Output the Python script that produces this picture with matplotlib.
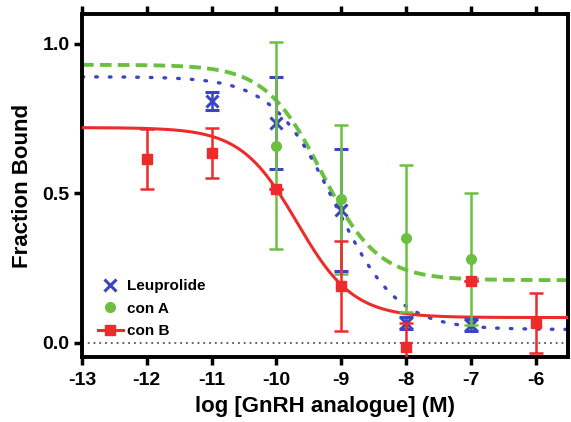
"""
Competition binding curves for GnRH analogues
"""
import numpy as np
import matplotlib
matplotlib.use('Agg')
import matplotlib.pyplot as plt
from matplotlib.lines import Line2D

# measured points: log concentration, mean fraction bound, error
leu_x = [-11, -10, -9, -8, -7]
leu_y = [0.81, 0.735, 0.445, 0.067, 0.06]
leu_err = [0.03, 0.155, 0.205, 0.02, 0.02]

conA_x = [-10, -9, -8, -7]
conA_y = [0.66, 0.48, 0.35, 0.28]
conA_err = [0.345, 0.25, 0.245, 0.22]

conB_x = [-12, -11, -10, -9, -8, -7, -6]
conB_y = [0.615, 0.635, 0.515, 0.19, -0.013, 0.207, 0.067]
conB_err = [0.10, 0.085, 0.0, 0.15, 0.08, 0.0, 0.10]

# fitted sigmoid parameters: top, bottom, logIC50, hill slope
leu_fit = [0.89, 0.045, -9.1, 0.9]
conA_fit = [0.93, 0.21, -9.3, 1.0]
conB_fit = [0.72, 0.085, -9.68, 1.0]

xticks = [-13, -12, -11, -10, -9, -8, -7, -6]
yticks = [0.0, 0.5, 1.0]

BLUE = '#3b44c4'
GREEN = '#6cc040'
RED = '#ee2b2b'

plt.rcParams['font.family'] = ['Liberation Sans', 'DejaVu Sans']
plt.rcParams['font.weight'] = 'bold'


def sigmoid(x, p):
    top, bottom, logic50, hill = p
    return bottom + (top - bottom) / (1 + 10 ** ((x - logic50) * hill))


fig = plt.figure(figsize=(5.71, 4.22), dpi=100)
ax = fig.add_axes([0.1436, 0.154, 0.851, 0.813])

xs = np.linspace(-13, -5.5, 400)
ax.axhline(0, color='#555555', linestyle=(0, (1, 2.2)), linewidth=1.3, zorder=1)

ax.plot(xs, sigmoid(xs, conA_fit), color=GREEN, linestyle=(0, (3, 1.6)), linewidth=2.8, zorder=2)
ax.plot(xs, sigmoid(xs, leu_fit), color=BLUE, linestyle=(0, (0.5, 3.6)), linewidth=2.4,
        dash_capstyle='round', zorder=2)
ax.plot(xs, sigmoid(xs, conB_fit), color=RED, linewidth=2.2, zorder=3)

ax.errorbar(leu_x, leu_y, yerr=leu_err, fmt='x', color=BLUE, ms=8, mew=2.2, capsize=5,
            elinewidth=1.8, capthick=1.8, zorder=4)
ax.errorbar(conA_x, conA_y, yerr=conA_err, fmt='o', color=GREEN, ms=7, capsize=5,
            elinewidth=1.8, capthick=1.8, zorder=5)
ax.errorbar(conB_x, conB_y, yerr=conB_err, fmt='s', color=RED, ms=7, capsize=5,
            elinewidth=1.8, capthick=1.8, zorder=6)

ax.set_xlim(-13, -5.5)
ax.set_ylim(-0.047, 1.10)
ax.set_xticks(xticks)
ax.set_xticklabels([str(t) for t in xticks])
ax.set_yticks(yticks)
ax.set_yticklabels(['0.0', '0.5', '1.0'])

for side in ['left', 'bottom', 'top', 'right']:
    ax.spines[side].set_linewidth(2.8)
ax.tick_params(axis='both', direction='out', length=6, width=2.5, labelsize=14, pad=3)
ax.tick_params(axis='x', top=True, pad=5)

ax.set_xlabel('log [GnRH analogue] (M)', fontsize=16, fontweight='bold', labelpad=5)
ax.set_ylabel('Fraction Bound', fontsize=16, fontweight='bold', labelpad=7)

handles = [
    Line2D([], [], marker='x', color=BLUE, linestyle='none', ms=8, mew=2.2),
    Line2D([], [], marker='o', color=GREEN, linestyle='none', ms=7),
    Line2D([], [], marker='s', color=RED, linestyle='-', linewidth=2.2, ms=7),
]
ax.legend(handles, ['Leuprolide', 'con A', 'con B'], loc='lower left',
          bbox_to_anchor=(0.005, 0.015), frameon=False, fontsize=11,
          handlelength=1.6, handletextpad=0.3, labelspacing=0.55)

plt.savefig('out.png', dpi=100)
plt.close(fig)
